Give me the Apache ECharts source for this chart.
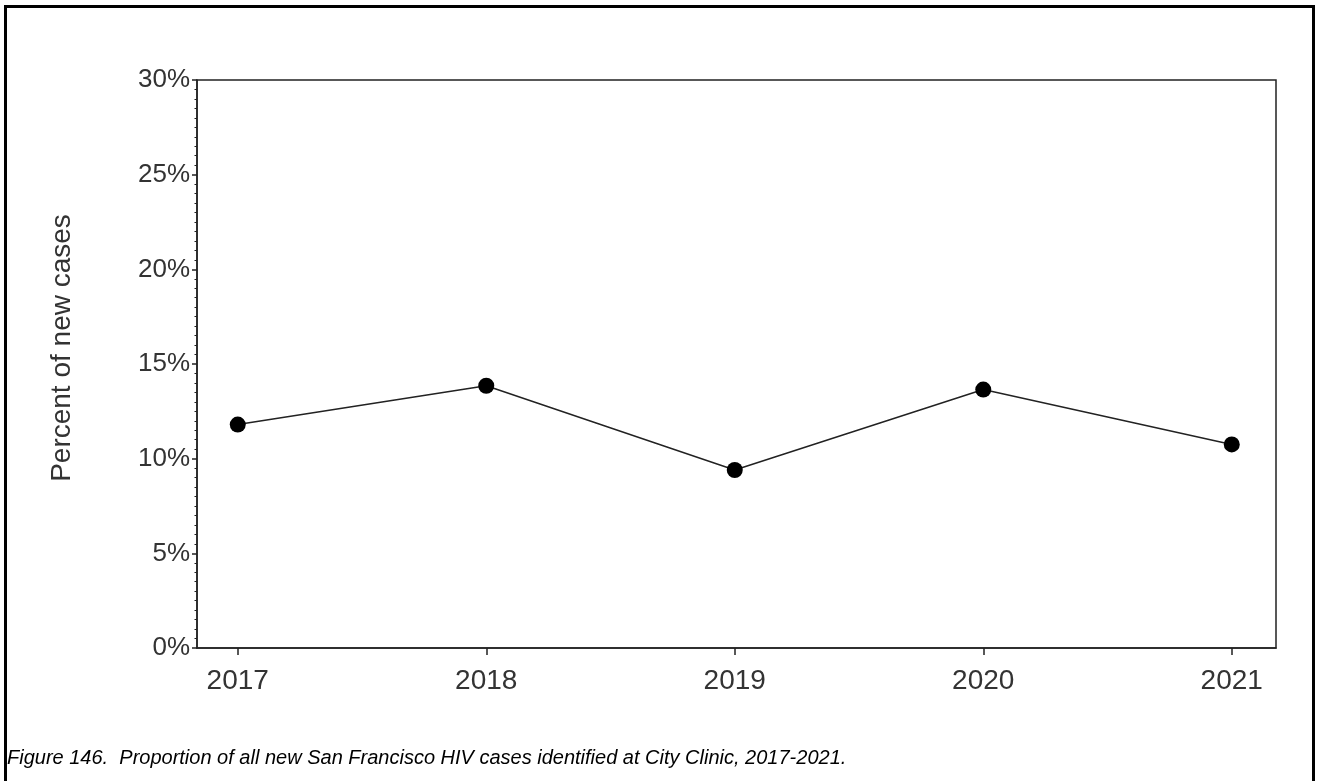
<!DOCTYPE html>
<html>
<head>
<meta charset="utf-8">
<script src="https://cdn.jsdelivr.net/npm/echarts@6/dist/echarts.min.js"></script>
<style>
html,body{margin:0;padding:0;background:#fff;}
#c{width:1318px;height:781px;}
</style>
</head>
<body>
<div id="c"></div>
<script>
const years = [2017, 2018, 2019, 2020, 2021];
const percentNew = [11.8, 13.85, 9.4, 13.65, 10.75];
const yTicks = [0, 5, 10, 15, 20, 25, 30];
const yTitle = 'Percent of new cases';
const caption = 'Figure 146.  Proportion of all new San Francisco HIV cases identified at City Clinic, 2017-2021.';

const FONT = '"Liberation Sans", Arial, sans-serif';
const chart = echarts.init(document.getElementById('c'), null, {renderer: 'canvas'});
chart.setOption({
  animation: false,
  backgroundColor: '#fff',
  grid: {left: 197, right: 42, top: 80, bottom: 133, show: true, borderColor: '#222', borderWidth: 1.5, backgroundColor: 'transparent'},
  xAxis: {
    type: 'value',
    min: 2016.836, max: 2021.178,
    splitLine: {show: false},
    axisLine: {show: true, lineStyle: {color: '#222', width: 1.5}},
    axisTick: {show: true, length: 7, customValues: years, lineStyle: {color: '#222', width: 1.5}},
    axisLabel: {customValues: years, margin: 19, fontFamily: FONT, fontSize: 28, color: '#333', formatter: v => String(Math.round(v))}
  },
  yAxis: {
    type: 'value',
    min: 0, max: 30, interval: 5,
    splitLine: {show: false},
    axisLine: {show: true, lineStyle: {color: '#222', width: 1.5}},
    axisTick: {show: true, length: 5, lineStyle: {color: '#222', width: 1.5}},
    minorTick: {show: true, splitNumber: 10, length: 2.5, lineStyle: {color: '#222', width: 1}},
    axisLabel: {margin: 7, fontFamily: FONT, fontSize: 26, color: '#333', formatter: v => v + '%'}
  },
  series: [{
    type: 'line',
    data: years.map((y, i) => [y, percentNew[i]]),
    symbol: 'circle', symbolSize: 16,
    itemStyle: {color: '#000'},
    lineStyle: {color: '#222', width: 1.5}
  }],
  graphic: [
    {type: 'rect', shape: {x: 5.5, y: 6.5, width: 1308, height: 800}, style: {fill: 'none', stroke: '#000', lineWidth: 3}, z: 100},
    {type: 'text', x: 62, y: 348, rotation: Math.PI / 2, style: {text: yTitle, font: '28px ' + FONT, fill: '#333', textAlign: 'center', textVerticalAlign: 'middle'}},
    {type: 'text', left: 7, top: 748, style: {text: caption, font: 'italic 20px ' + FONT, fill: '#000'}}
  ]
});
</script>
</body>
</html>
